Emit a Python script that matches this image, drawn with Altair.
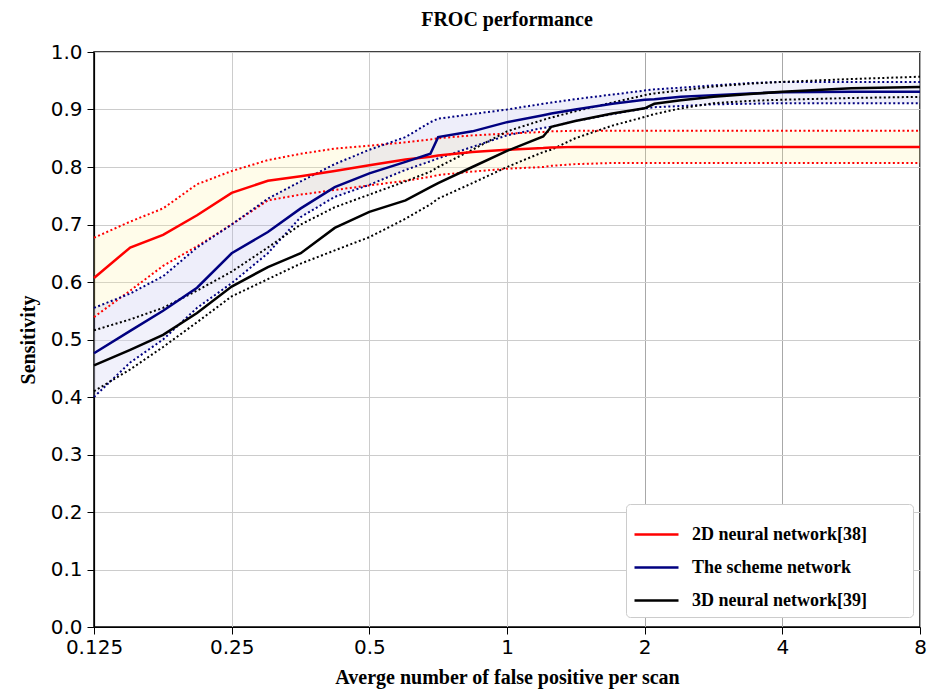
import altair as alt
import pandas as pd

# x positions (average false positives per scan)
X = [0.125, 0.15, 0.177, 0.21, 0.25, 0.3, 0.354, 0.42, 0.5, 0.6, 0.68, 0.707,
     0.84, 1.0, 1.2, 1.25, 1.41, 1.7, 2.0, 2.1, 2.4, 2.83, 3.4, 4.0, 5.66, 8.0]

SERIES = ["2D neural network[38]", "The scheme network", "3D neural network[39]"]

RED_MEAN = [0.607, 0.66, 0.682, 0.716, 0.755, 0.776, 0.784, 0.793, 0.803, 0.813, 0.818, 0.82,
            0.826, 0.83, 0.833, 0.834, 0.835, 0.835, 0.835, 0.835, 0.835, 0.835, 0.835, 0.835, 0.835, 0.835]
RED_HI = [0.677, 0.705, 0.728, 0.77, 0.793, 0.812, 0.823, 0.832, 0.837, 0.843, 0.848, 0.85,
          0.855, 0.858, 0.861, 0.862, 0.863, 0.863, 0.863, 0.863, 0.863, 0.863, 0.863, 0.863, 0.863, 0.863]
RED_LO = [0.539, 0.585, 0.628, 0.662, 0.70, 0.742, 0.752, 0.76, 0.768, 0.776, 0.783, 0.786,
          0.792, 0.797, 0.80, 0.802, 0.805, 0.807, 0.807, 0.807, 0.807, 0.807, 0.807, 0.807, 0.807, 0.807]

BLUE_MEAN = [0.476, 0.515, 0.55, 0.59, 0.65, 0.687, 0.728, 0.765, 0.789, 0.809, 0.823, 0.852,
             0.862, 0.878, 0.89, 0.893, 0.90, 0.91, 0.917, 0.918, 0.922, 0.925, 0.928, 0.93, 0.931, 0.931]
BLUE_HI = [0.555, 0.58, 0.61, 0.66, 0.70, 0.745, 0.775, 0.805, 0.83, 0.852, 0.878, 0.884,
           0.892, 0.90, 0.91, 0.912, 0.918, 0.926, 0.933, 0.935, 0.938, 0.942, 0.946, 0.948, 0.948, 0.948]
BLUE_LO = [0.40, 0.46, 0.50, 0.555, 0.598, 0.65, 0.713, 0.748, 0.769, 0.795, 0.81, 0.815,
           0.835, 0.855, 0.868, 0.87, 0.88, 0.892, 0.902, 0.904, 0.906, 0.909, 0.91, 0.911, 0.911, 0.911]

BLACK_MEAN = [0.455, 0.482, 0.508, 0.546, 0.592, 0.626, 0.65, 0.694, 0.722, 0.742, 0.765, 0.772,
              0.80, 0.828, 0.853, 0.87, 0.88, 0.893, 0.902, 0.91, 0.916, 0.922, 0.927, 0.931, 0.937, 0.939]
BLACK_HI = [0.516, 0.535, 0.555, 0.585, 0.618, 0.66, 0.70, 0.73, 0.752, 0.775, 0.792, 0.80,
            0.83, 0.862, 0.882, 0.886, 0.897, 0.912, 0.925, 0.928, 0.933, 0.94, 0.945, 0.948, 0.953, 0.957]
BLACK_LO = [0.41, 0.448, 0.487, 0.53, 0.575, 0.605, 0.632, 0.655, 0.678, 0.71, 0.735, 0.745,
            0.772, 0.80, 0.826, 0.83, 0.85, 0.872, 0.887, 0.892, 0.902, 0.911, 0.915, 0.917, 0.92, 0.922]

X_TICKS = [0.125, 0.25, 0.5, 1, 2, 4, 8]
Y_TICKS = [0.0, 0.1, 0.2, 0.3, 0.4, 0.5, 0.6, 0.7, 0.8, 0.9, 1.0]

LINE_COLORS = ["#ff0000", "#000080", "#000000"]
BAND_COLORS = ["#fff0a0", "#b0b0e6", "#ffffff"]

rows = []
for name, mean, lo, hi in [
    (SERIES[0], RED_MEAN, RED_LO, RED_HI),
    (SERIES[1], BLUE_MEAN, BLUE_LO, BLUE_HI),
    (SERIES[2], BLACK_MEAN, BLACK_LO, BLACK_HI),
]:
    for x, m, l, h in zip(X, mean, lo, hi):
        rows.append({"x": x, "series": name, "band": "band " + name, "mean": m, "lo": l, "hi": h})
df = pd.DataFrame(rows)
long = df.melt(id_vars=["x", "series"], value_vars=["lo", "hi"],
               var_name="bound", value_name="v")

xscale = alt.Scale(type="log", base=2, domain=[0.125, 8], nice=False)
yscale = alt.Scale(domain=[0, 1], nice=False)
stroke_scale = alt.Scale(domain=SERIES, range=LINE_COLORS)
fill_scale = alt.Scale(domain=["band " + s for s in SERIES], range=BAND_COLORS)

xaxis = alt.Axis(values=X_TICKS, format="~g", labelFlush=False, labelOverlap=False,
                 labelPadding=3, titlePadding=10,
                 title="Averge number of false positive per scan",
                 gridColor={"condition": {"test": "datum.value >= 2", "value": "#a8a8a8"},
                            "value": "#cccccc"})
yaxis = alt.Axis(values=Y_TICKS, format=".1f", title="Sensitivity", labelFlush=False,
                 labelOverlap=False, labelPadding=5, titlePadding=12)

xenc = alt.X("x:Q", scale=xscale, axis=xaxis)

band = alt.Chart(df).mark_area(opacity=0.22).encode(
    x=xenc,
    y=alt.Y("lo:Q", scale=yscale, axis=yaxis),
    y2="hi:Q",
    fill=alt.Fill("band:N", scale=fill_scale, legend=None),
    detail="band:N",
)

dots = alt.Chart(long).mark_line(strokeDash=[2, 2.5], strokeWidth=2, strokeCap="butt").encode(
    x=xenc,
    y=alt.Y("v:Q", scale=yscale),
    stroke=alt.Stroke("series:N", scale=stroke_scale),
    detail="bound:N",
)

lines = alt.Chart(df).mark_line(strokeWidth=2.5).encode(
    x=xenc,
    y=alt.Y("mean:Q", scale=yscale),
    stroke=alt.Stroke("series:N", scale=stroke_scale,
                      legend=alt.Legend(title=None, orient="none", legendX=532, legendY=452,
                                        labelExpr="datum.label + '\u2800\u2800\u2800'")),
)

chart = alt.layer(band, dots, lines).properties(
    width=826, height=575,
    title=alt.TitleParams("FROC performance", font="Liberation Serif", fontWeight="bold",
                          fontSize=20, color="#000000", anchor="middle", offset=12),
    autosize=alt.AutoSizeParams(type="none"),
    padding={"left": 94, "top": 52, "right": 13, "bottom": 65},
).configure_view(
    stroke="#000000", strokeWidth=1.5
).configure_axis(
    labelFont="DejaVu Sans", labelFontSize=20, labelColor="#000000",
    titleFont="Liberation Serif", titleFontWeight="bold", titleFontSize=20, titleColor="#000000",
    tickColor="#000000", tickSize=7, domainColor="#000000", domainWidth=1.2,
    gridColor="#cccccc", gridWidth=1,
).configure_legend(
    fillColor="#ffffff", strokeColor="#cccccc", cornerRadius=4, padding=7,
    symbolType="stroke", symbolSize=1936, symbolStrokeWidth=2.5, symbolDash=[1, 0],
    labelFont="Liberation Serif", labelFontWeight="bold", labelFontSize=18,
    labelColor="#000000", labelOffset=12, rowPadding=0, labelLimit=400,
)

chart.save("out.html", embed_options={"renderer": "svg", "actions": False})
